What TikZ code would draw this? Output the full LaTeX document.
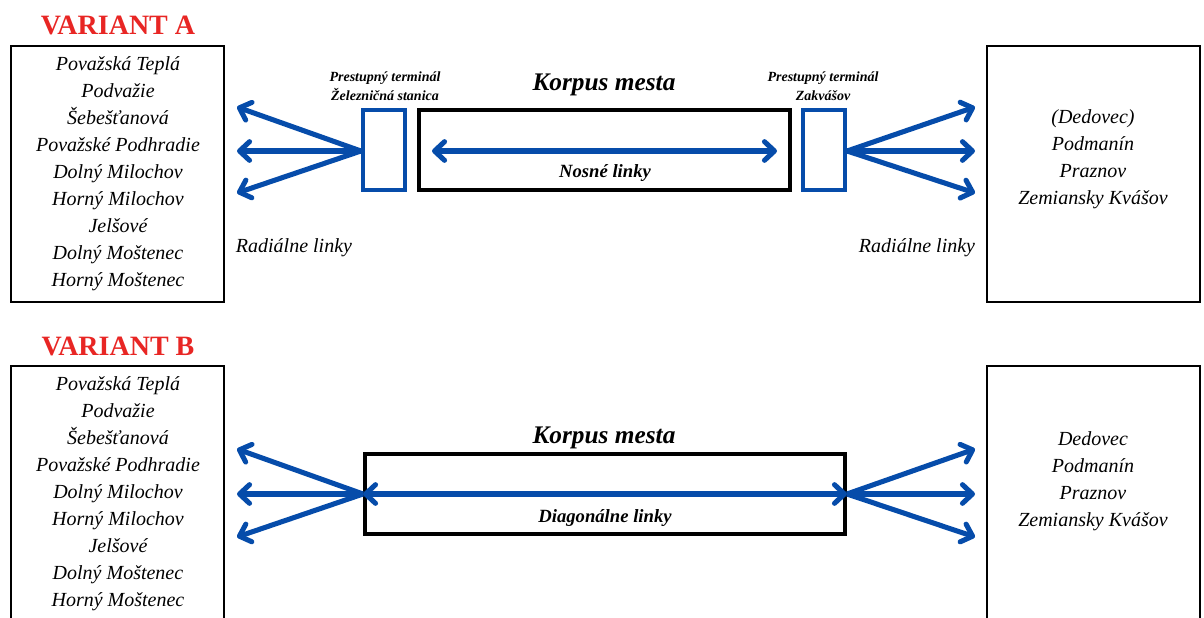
\documentclass[tikz,border=0pt]{standalone}
\usepackage{fontspec}
\setmainfont{Liberation Serif}
\usetikzlibrary{arrows.meta,positioning}

\tikzset{
	title/.style={font=\bfseries\fontsize{21}{24}\selectfont, text=varred},
	town/.style={font=\itshape\fontsize{15}{20.25}\selectfont, align=center},
	termlabel/.style={font=\bfseries\itshape\fontsize{10.5}{14}\selectfont, align=center},
	corelabel/.style={font=\bfseries\itshape\fontsize{19}{22}\selectfont},
	linelabel/.style={font=\bfseries\itshape\fontsize{14}{16}\selectfont},
	radlabel/.style={font=\itshape\fontsize{15}{18}\selectfont},
	listbox/.style={draw, line width=1.5pt},
	terminal/.style={draw=lineblue, line width=3.2pt, minimum width=31.5pt, minimum height=60pt, inner sep=0pt},
	corebox/.style={draw, line width=3pt, minimum height=60pt, inner sep=0pt},
	radial/.style={draw=lineblue, line width=3.8pt, -{Straight Barb[length=7.5pt,width=14pt,round]}},
	carrier/.style={radial, {Straight Barb[length=7.5pt,width=14pt,round]}-{Straight Barb[length=7.5pt,width=14pt,round]}}
}

\begin{document}
\begin{tikzpicture}[x=0.75pt,y=-0.75pt]
	\definecolor{varred}{RGB}{232,38,36}
	\definecolor{lineblue}{RGB}{6,76,170}

	\useasboundingbox (0,0) rectangle (1204,618);

	\node[title] (titleA) at (118,25) {VARIANT A};
	\draw[listbox] (11,46) rectangle (224,302);
	\node[town] (listA) at (118,174) {Považská Teplá\\Podvažie\\Šebešťanová\\Považské Podhradie\\Dolný Milochov\\Horný Milochov\\Jelšové\\Dolný Moštenec\\Horný Moštenec};
	\draw[listbox] (987,46) rectangle (1200,302);
	\node[town] (destA) at (1093,159) {(Dedovec)\\Podmanín\\Praznov\\Zemiansky Kvášov};

	\node[terminal] (termW) at (384,150) {};
	\node[corebox, minimum width=278pt] (coreA) at (604.5,150) {};
	\node[terminal] (termE) at (824,150) {};
	\node[termlabel] (termWlbl) at (385,86) {Prestupný terminál\\Železničná stanica};
	\node[termlabel] (termElbl) at (823,86) {Prestupný terminál\\Zakvášov};
	\node[corelabel] (coreAlbl) at (604,85) {Korpus mesta};
	\node[linelabel] (nosne) at (605,173) {Nosné linky};
	\node[radlabel] (radW) at (294,248) {Radiálne linky};
	\node[radlabel] (radE) at (917,248) {Radiálne linky};

	\coordinate (aw1) at (237,107);
	\coordinate (aw2) at (237,151);
	\coordinate (aw3) at (237,193);
	\coordinate (ae1) at (975,107);
	\coordinate (ae2) at (975,151);
	\coordinate (ae3) at (975,193);
	\coordinate (nw) at (432,151);
	\coordinate (ne) at (777,151);
	\foreach \t in {aw1,aw2,aw3} \draw[radial] ([yshift=-0.75pt]termW.west) -- (\t);
	\foreach \t in {ae1,ae2,ae3} \draw[radial] ([yshift=-0.75pt]termE.east) -- (\t);
	\draw[carrier] (nw) -- (ne);

	\node[title] (titleB) at (118,346) {VARIANT B};
	\draw[listbox] (11,618) -- (11,366) -- (224,366) -- (224,618);
	\node[town] (listB) at (118,494) {Považská Teplá\\Podvažie\\Šebešťanová\\Považské Podhradie\\Dolný Milochov\\Horný Milochov\\Jelšové\\Dolný Moštenec\\Horný Moštenec};
	\draw[listbox] (987,618) -- (987,366) -- (1200,366) -- (1200,618);
	\node[town] (destB) at (1093,481) {Dedovec\\Podmanín\\Praznov\\Zemiansky Kvášov};

	\node[corebox, minimum width=360pt] (coreB) at (605,494) {};
	\node[corelabel] (coreBlbl) at (604,438) {Korpus mesta};
	\node[linelabel] (diag) at (605,518) {Diagonálne linky};

	\coordinate (bw1) at (237,449);
	\coordinate (bw2) at (237,494);
	\coordinate (bw3) at (237,537);
	\coordinate (be1) at (975,449);
	\coordinate (be2) at (975,494);
	\coordinate (be3) at (975,537);
	\foreach \t in {bw1,bw2,bw3} \draw[radial] (coreB.west) -- (\t);
	\foreach \t in {be1,be2,be3} \draw[radial] (coreB.east) -- (\t);
	\draw[carrier] (coreB.west) -- (coreB.east);
\end{tikzpicture}
\end{document}
